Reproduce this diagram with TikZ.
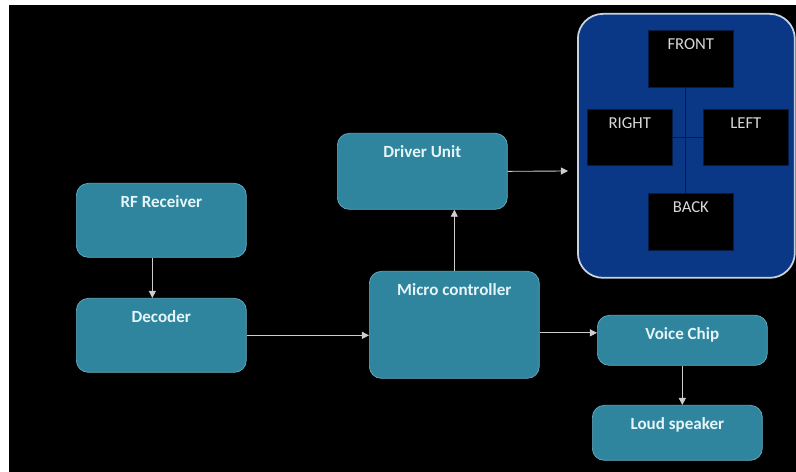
\documentclass[tikz,border=0pt]{standalone}
\usepackage{fontspec}
\setmainfont{Carlito}
\usetikzlibrary{arrows.meta,calc}
\definecolor{blkfill}{RGB}{47,133,157}
\definecolor{blkline}{RGB}{100,172,192}
\definecolor{blktext}{RGB}{228,246,250}
\definecolor{panelblue}{RGB}{10,56,134}
\definecolor{panelrim}{RGB}{200,210,226}
\definecolor{wire}{RGB}{205,205,205}
\tikzset{blk/.style={draw=blkline,fill=blkfill,rounded corners=0.24cm,anchor=north west,minimum width=3.4cm,inner sep=0pt,text height=0.48cm,font=\fontsize{9.7}{11}\selectfont\bfseries,text=blktext},
dirbox/.style={draw=panelblue!50!black,fill=black,anchor=north west,minimum width=1.7cm,inner sep=0pt,text height=0.38cm,text depth=0.76cm,font=\fontsize{9.5}{11}\selectfont,text=white!85!black},
arr/.style={draw=wire,line width=0.5pt,-{Triangle[length=4pt,width=4pt]}}}

\begin{document}
\begin{tikzpicture}[x=0.02cm,y=-0.02cm]
  \useasboundingbox (0,0) rectangle (796,472);
  \fill[white] (0,0) rectangle (796,472);
  \fill[black] (9,5) rectangle (796,472);
  % car directions
  \node[draw=panelrim,line width=1pt,fill=panelblue,rounded corners=0.5cm,anchor=north west,minimum width=4.34cm,minimum height=5.28cm,inner sep=0pt] (panel) at (577,13) {};
  \node[dirbox] (front) at (648,30) {FRONT};
  \node[dirbox,text depth=0.74cm] (right) at (587,109) {RIGHT};
  \node[dirbox,text depth=0.74cm] (left) at (703,109) {LEFT};
  \node[dirbox] (back) at (648,193) {BACK};
  \draw[panelblue!50!black] ([xshift=-0.1cm]front.south) -- ([xshift=-0.1cm]back.north) (right.east) -- (left.west);
  % blocks
  \node[blk,text depth=1.00cm] (rf) at (76,183) {RF Receiver};
  \node[blk,text depth=1.00cm] (dec) at (76,298) {Decoder};
  \node[blk,text depth=1.04cm] (drv) at (337,133) {Driver Unit};
  \node[blk,text depth=1.66cm] (mcu) at (369,271) {Micro controller};
  \node[blk,text depth=0.52cm] (voice) at (597,315) {Voice Chip};
  \node[blk,text depth=0.62cm] (spk) at (592,405) {Loud speaker};
  \coordinate (drvout) at (568,171);
  \draw[arr] ([xshift=-0.18cm]rf.south) -- ([xshift=-0.18cm]rf.south |- dec.north);
  \draw[arr] (dec.east) -- (dec.east -| mcu.west);
  \draw[arr] (mcu.north) -- (mcu.north |- drv.south);
  \draw[arr] (drv.east) -- (drvout);
  \draw[arr] ([yshift=-0.16cm]mcu.east) coordinate (m1) -- (m1 -| voice.west);
  \draw[arr] (voice.south) -- (voice.south |- spk.north);
\end{tikzpicture}
\end{document}
